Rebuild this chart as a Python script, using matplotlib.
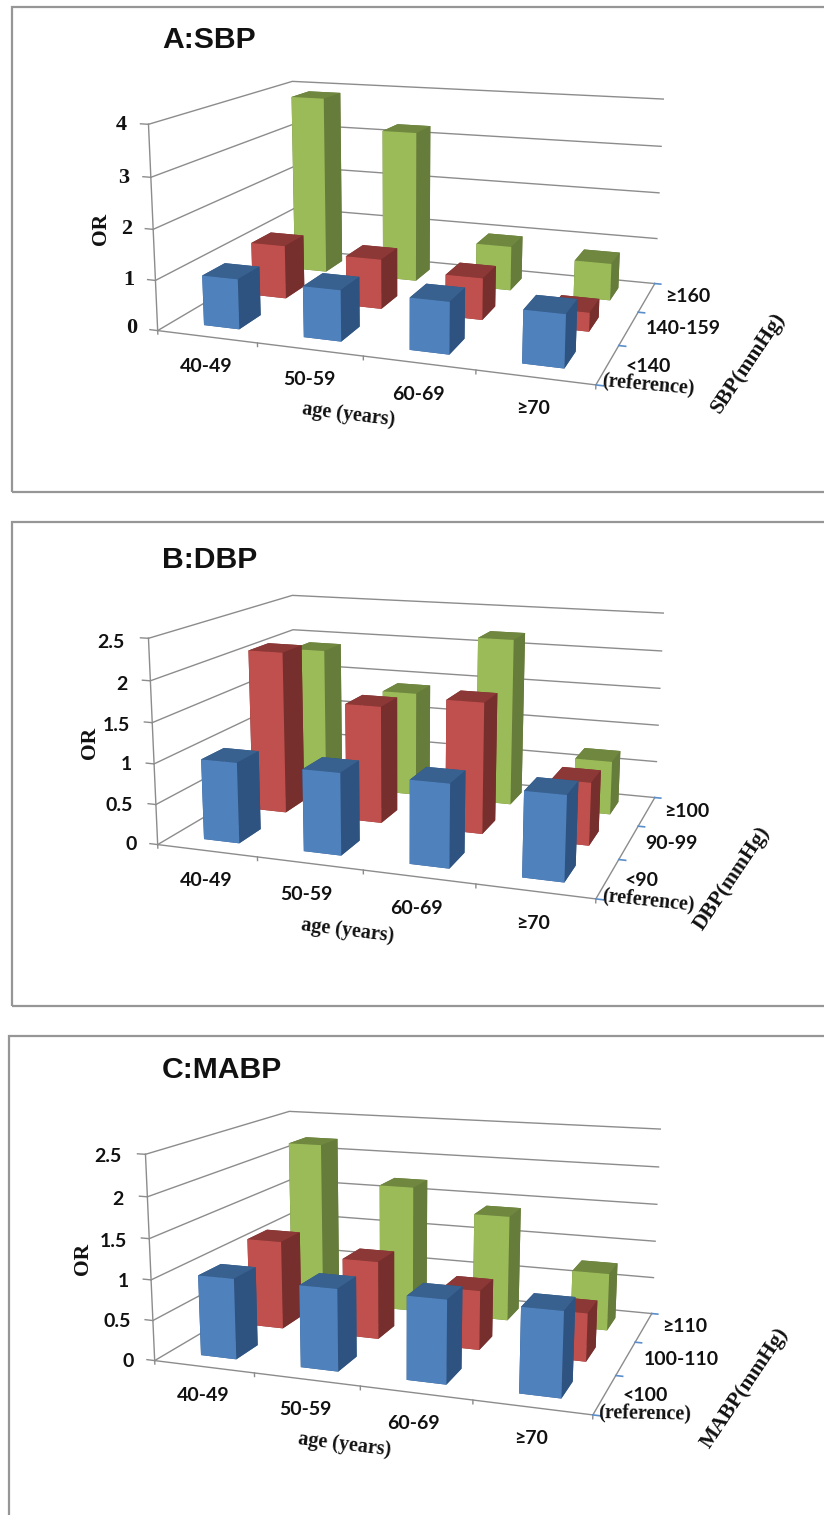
import numpy as np
import matplotlib
matplotlib.use("Agg")
import matplotlib.pyplot as plt
from matplotlib.patches import Rectangle
from mpl_toolkits.mplot3d import Axes3D  # noqa: F401

W, H = 824, 1515

ages = ["40-49", "50-59", "60-69", "≥70"]

sbp_ticks = ["0", "1", "2", "3", "4"]
sbp_tick_vals = [0, 1, 2, 3, 4]
sbp_ref = [1.0, 1.0, 1.0, 1.0]
sbp_mid = [1.12, 1.03, 0.85, 0.38]
sbp_high = [3.88, 3.25, 0.95, 0.78]

dbp_ticks = ["0", "0.5", "1", "1.5", "2", "2.5"]
dbp_tick_vals = [0, 0.5, 1, 1.5, 2, 2.5]
dbp_ref = [1.0, 1.0, 1.0, 1.0]
dbp_mid = [2.1, 1.5, 1.65, 0.78]
dbp_high = [1.9, 1.4, 2.2, 0.7]

mabp_ticks = dbp_ticks
mabp_tick_vals = dbp_tick_vals
mabp_ref = [1.0, 1.0, 1.0, 1.0]
mabp_mid = [1.15, 1.0, 0.75, 0.6]
mabp_high = [2.2, 1.7, 1.4, 0.75]

FRONT = ["#4F81BD", "#C0504D", "#9BBB59"]
SIDE = ["#2F5380", "#772F2D", "#667C3A"]
TOP = ["#38618F", "#8C3836", "#708740"]
GRID = "#8c8c8c"
TICKBLUE = "#5B8FCB"
SANS = "Lato"
SERIF = "Liberation Serif"


def fit_projection():
    """3D->pixel camera for scene x 0..4, y 0..3, z 0..1, fitted to the wall corners."""
    world = [(0, 0, 0), (0, 0, 1), (0, 3, 0), (0, 3, 1), (4, 0, 0), (4, 3, 0), (4, 3, 1)]
    pix = [(158, 328), (148, 125), (295, 252), (293, 80), (596, 387), (655, 281), (663, 100)]
    rows = []
    for (x, y, z), (u, v) in zip(world, pix):
        rows.append([x, y, z, 1, 0, 0, 0, 0, -u * x, -u * y, -u * z, -u])
        rows.append([0, 0, 0, 0, x, y, z, 1, -v * x, -v * y, -v * z, -v])
    _, _, vt = np.linalg.svd(np.array(rows, float))
    p = vt[-1].reshape(3, 4)
    p = p / p[2, 3]
    return p


P0 = fit_projection()

fig = plt.figure(figsize=(W / 100, H / 100), dpi=100, facecolor="white")


def px_text(x, y, s, size, family=SANS, rot=0, weight="bold", ha="center", color="#111111"):
    if family != SERIF:
        y = y + 1.5
    fig.text(x / W, 1 - y / H, s, fontsize=size, family=family, weight=weight, rotation=rot,
             ha=ha, va="center", color=color, rotation_mode="anchor")


def panel(dx, dy, zmax, zvals, ref, mid, high):
    ax = fig.add_axes([0, 0, 1, 1], projection="3d")
    ax.set_axis_off()
    ax.set_facecolor("none")
    ax.patch.set_visible(False)
    ax.computed_zorder = False
    ax.set_proj_type("ortho")  # keeps lines outside the unit cube from being masked
    ax.apply_aspect = lambda position=None: None

    p = P0.copy()
    p[:, 2] = p[:, 2] / zmax
    p[0] = p[0] + dx * p[2]
    p[1] = p[1] + dy * p[2]
    depth = np.array([-0.3, 1.0, -0.3 / zmax, 5.0])
    M = np.vstack([p[0], p[1], depth, p[2]])
    ax.get_proj = lambda: M

    lw = 1.0
    for z in zvals:
        ax.plot([0, 0, 4], [0, 3, 3], [z, z, z], color=GRID, lw=lw, zorder=1)
        ax.plot([-0.08, 0], [0, 0], [z, z], color=GRID, lw=lw, zorder=1)
    ax.plot([0, 0], [0, 0], [0, zmax], color=GRID, lw=lw, zorder=1)
    ax.plot([0, 4, 4], [0, 0, 3], [0, 0, 0], color=GRID, lw=lw, zorder=1)
    for i in range(5):
        ax.plot([i, i], [0, 0], [0, -0.035 * zmax / 2], color=GRID, lw=lw, zorder=1)
    for j in range(4):
        ax.plot([4, 4.06], [j, j], [0, 0], color=TICKBLUE, lw=1.2, zorder=1)

    series = [ref, mid, high]
    bw, bd = 0.36, 0.44
    z = 2
    for j in (2, 1, 0):
        for i in range(4):
            colors = [TOP[j], TOP[j], FRONT[j], SIDE[j], SIDE[j], SIDE[j]]
            ax.bar3d(i + 0.5 - bw / 2, j + 0.5 - bd / 2, 0, bw, bd, series[j][i],
                     color=colors, shade=False, zorder=z)
            z += 1
    ax.set_xlim(0, 4)
    ax.set_ylim(0, 3)
    ax.set_zlim(0, zmax)
    ax.viewLim.intervalx = (0, W)
    ax.viewLim.intervaly = (H, 0)
    return ax


panel(0, 0, 4.0, sbp_tick_vals, sbp_ref, sbp_mid, sbp_high)
panel(0, 514, 2.5, dbp_tick_vals, dbp_ref, dbp_mid, dbp_high)
panel(-3, 1030, 2.5, mabp_tick_vals, mabp_ref, mabp_mid, mabp_high)

# panel frames
for (x0, y0, x1, y1) in [(12, 7, 830, 492), (12, 522, 830, 1006), (9, 1036, 830, 1530)]:
    fig.add_artist(Rectangle((x0 / W, 1 - y1 / H), (x1 - x0) / W, (y1 - y0) / H,
                             transform=fig.transFigure, fill=False, ec="#969696", lw=1.6))

TS, TL = 14, 15.5
# titles
px_text(162, 38, "A:SBP", 21.7, family="Liberation Sans", ha="left")
px_text(162, 558, "B:DBP", 21.7, family="Liberation Sans", ha="left")
px_text(162, 1068, "C:MABP", 21.7, family="Liberation Sans", ha="left")

# z tick labels
for s, (x, y) in zip(sbp_ticks, [(132, 328), (129, 280), (127, 229), (124, 178), (121, 125)]):
    px_text(x, y, s, 16, family=SERIF)
for s, (x, y) in zip(dbp_ticks, [(131, 843), (119, 804), (126, 763), (116, 724), (122, 683), (111, 641)]):
    px_text(x, y, s, TS)
for s, (x, y) in zip(mabp_ticks, [(128, 1360), (117, 1320), (123, 1280), (113, 1240), (118, 1198), (108, 1155)]):
    px_text(x, y, s, TS)
for x, y in [(101, 229), (90, 743), (83, 1259)]:
    px_text(x, y, "OR", TL, family=SERIF, rot=90)

# age labels
for s, (x, y) in zip(ages, [(206, 365), (309, 378), (418, 393), (533, 407)]):
    px_text(x, y, s, TS)
for s, (x, y) in zip(ages, [(206, 879), (306, 893), (416, 907), (533, 922)]):
    px_text(x, y, s, TS)
for s, (x, y) in zip(ages, [(203, 1394), (305, 1408), (413, 1422), (531, 1437)]):
    px_text(x, y, s, TS)
px_text(349, 415, "age (years)", 14.5, family=SERIF, rot=-7)
px_text(348, 931, "age (years)", 14.5, family=SERIF, rot=-7)
px_text(345, 1445, "age (years)", 14.5, family=SERIF, rot=-7)

# depth labels
for s, x, y in [("≥160", 688, 295), ("140-159", 683, 327), ("<140", 648, 365)]:
    px_text(x, y, s, TS)
for s, x, y in [("≥100", 687, 810), ("90-99", 671, 842), ("<90", 642, 879)]:
    px_text(x, y, s, TS)
for s, x, y in [("≥110", 685, 1325), ("100-110", 681, 1358), ("<100", 645, 1394)]:
    px_text(x, y, s, TS)
px_text(648, 385, "(reference)", 14.5, family=SERIF, rot=-5)
px_text(648, 900, "(reference)", 14.5, family=SERIF, rot=-6)
px_text(645, 1413, "(reference)", 14.5, family=SERIF, rot=-1)
px_text(748, 363, "SBP(mmHg)", TL, family=SERIF, rot=56)
px_text(732, 878, "DBP(mmHg)", TL, family=SERIF, rot=56)
px_text(745, 1388, "MABP(mmHg)", TL, family=SERIF, rot=56)

fig.savefig("out.png", dpi=100)
